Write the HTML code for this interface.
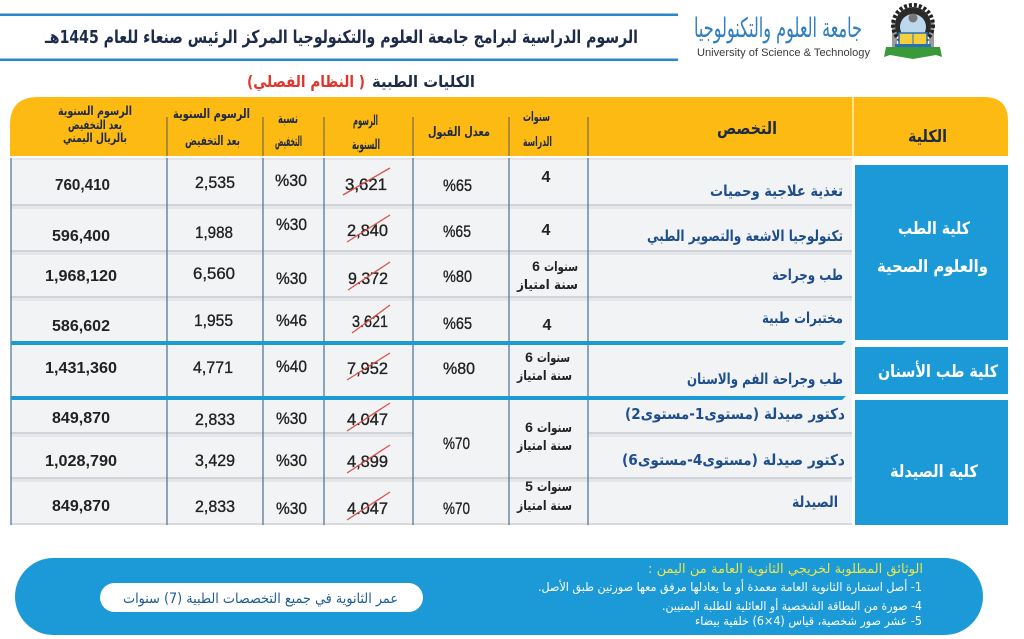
<!DOCTYPE html>
<html><head><meta charset="utf-8">
<style>
html,body{margin:0;padding:0;background:#fff;}
body{width:1024px;height:639px;overflow:hidden;}
svg{display:block;}
.ar{font-family:"DejaVu Sans","Liberation Sans",sans-serif;}
.nm{font-family:"Liberation Sans","DejaVu Sans",sans-serif;}
</style></head>
<body>
<svg width="1024" height="639" viewBox="0 0 1024 639" xmlns="http://www.w3.org/2000/svg">
<rect width="1024" height="639" fill="#fff"/>

<!-- top lines -->
<rect x="0" y="13.5" width="678" height="2.5" fill="#2b88c6"/>
<rect x="0" y="58.5" width="678" height="2.5" fill="#2b88c6"/>

<!-- title -->
<text class="ar" x="341.5" y="43" text-anchor="middle" direction="rtl" font-size="18" font-weight="bold" fill="#1c2b4a" textLength="593" lengthAdjust="spacingAndGlyphs">الرسوم الدراسية لبرامج جامعة العلوم والتكنولوجيا المركز الرئيس صنعاء للعام 1445هـ</text>

<!-- logo -->
<text class="ar" x="778" y="37" text-anchor="middle" direction="rtl" font-size="27" fill="#2f7fc1" textLength="168" lengthAdjust="spacingAndGlyphs">جامعة العلوم والتكنولوجيا</text>
<text class="nm" x="783.5" y="56" text-anchor="middle" font-size="11" fill="#3a3a3a" textLength="173" lengthAdjust="spacingAndGlyphs">University of Science &amp; Technology</text>
<!-- emblem -->
<g>
<rect x="892" y="22" width="5" height="28" fill="#9a9a9a"/>
<rect x="929" y="22" width="5" height="28" fill="#9a9a9a"/>
<circle cx="913" cy="25" r="20" fill="none" stroke="#222" stroke-width="4" stroke-dasharray="3 2"/>
<circle cx="913" cy="25" r="18" fill="#2a2a2a"/>
<circle cx="913" cy="27" r="13" fill="#bcd8ef"/>
<circle cx="913" cy="18" r="4.5" fill="#777"/>
<rect x="899" y="33" width="28" height="12" fill="#f4d03f" stroke="#2a6fb5" stroke-width="1.5"/>
<line x1="913" y1="33" x2="913" y2="45" stroke="#2a6fb5" stroke-width="1"/>
<rect x="895" y="44" width="36" height="4" fill="#2a6fb5"/>
<path d="M886 47 L940 47 L942 57 L936 55 L913 59 L890 55 L884 57 Z" fill="#3a9a3a"/>
</g>

<!-- subtitle -->
<text class="ar" x="423.5" y="87" text-anchor="middle" direction="rtl" font-size="16" font-weight="bold" fill="#1c2b4a" textLength="103" lengthAdjust="spacingAndGlyphs">الكليات الطبية</text>
<text class="ar" x="306" y="87" text-anchor="middle" direction="rtl" font-size="16" font-weight="bold" fill="#e2342b" textLength="118" lengthAdjust="spacingAndGlyphs">( النظام الفصلي)</text>

<!-- header yellow -->
<path d="M10 156 L10 125 Q10 97 38 97 L852 97 L852 156 Z" fill="#FDBA12"/>
<path d="M854 97 L984 97 Q1008 97 1008 121 L1008 156 L854 156 Z" fill="#FDBA12"/>
<rect x="852" y="97" width="2" height="59" fill="#fde08a"/>
<g stroke="#5a5a5a" stroke-width="1">
<line x1="167" y1="117" x2="167" y2="156"/>
<line x1="263" y1="117" x2="263" y2="156"/>
<line x1="324" y1="117" x2="324" y2="156"/>
<line x1="413" y1="117" x2="413" y2="156"/>
<line x1="509" y1="117" x2="509" y2="156"/>
<line x1="588" y1="117" x2="588" y2="156"/>
</g>

<!-- header texts -->
<g class="ar" text-anchor="middle" direction="rtl" font-weight="bold" fill="#1f2a44">
<text x="927.5" y="142" font-size="17" textLength="39" lengthAdjust="spacingAndGlyphs">الكلية</text>
<text x="747" y="134" font-size="17" textLength="60" lengthAdjust="spacingAndGlyphs">التخصص</text>
<text x="536.5" y="121" font-size="13" textLength="27" lengthAdjust="spacingAndGlyphs">سنوات</text>
<text x="537.5" y="146" font-size="13" textLength="29" lengthAdjust="spacingAndGlyphs">الدراسة</text>
<text x="459" y="136" font-size="13" textLength="62" lengthAdjust="spacingAndGlyphs">معدل القبول</text>
<text x="365.5" y="125" font-size="14" textLength="25" lengthAdjust="spacingAndGlyphs">الرسوم</text>
<text x="366" y="149" font-size="14" textLength="28" lengthAdjust="spacingAndGlyphs">السنوية</text>
<text x="288" y="123" font-size="14" textLength="20" lengthAdjust="spacingAndGlyphs">نسبة</text>
<text x="288.5" y="146" font-size="14" textLength="27" lengthAdjust="spacingAndGlyphs">التخفيض</text>
<text x="211.5" y="118" font-size="13" textLength="77" lengthAdjust="spacingAndGlyphs">الرسوم السنوية</text>
<text x="212.5" y="145" font-size="13" textLength="55" lengthAdjust="spacingAndGlyphs">بعد التخفيض</text>
<text x="95" y="115" font-size="12.5" textLength="74" lengthAdjust="spacingAndGlyphs">الرسوم السنوية</text>
<text x="95" y="129" font-size="12.5" textLength="54" lengthAdjust="spacingAndGlyphs">بعد التخفيض</text>
<text x="95" y="142" font-size="12.5" textLength="64" lengthAdjust="spacingAndGlyphs">بالريال اليمني</text>
</g>

<!-- table body background -->
<rect x="11" y="158" width="841" height="367" fill="#f2f3f5"/>
<rect x="11" y="158" width="841" height="2" fill="#e4e6e9"/>
<!-- row separators -->
<g>
<rect x="11" y="204" width="841" height="2" fill="#d0d3d7"/><rect x="11" y="206" width="841" height="3" fill="#e4e6e9"/>
<rect x="11" y="250" width="841" height="2" fill="#d0d3d7"/><rect x="11" y="252" width="841" height="3" fill="#e4e6e9"/>
<rect x="11" y="296" width="841" height="2" fill="#d0d3d7"/><rect x="11" y="298" width="841" height="3" fill="#e4e6e9"/>
<rect x="11" y="432" width="402" height="2" fill="#d0d3d7"/><rect x="11" y="434" width="402" height="3" fill="#e4e6e9"/>
<rect x="588" y="432" width="264" height="2" fill="#d0d3d7"/><rect x="588" y="434" width="264" height="3" fill="#e4e6e9"/>
<rect x="11" y="477" width="841" height="2" fill="#d0d3d7"/><rect x="11" y="479" width="841" height="3" fill="#e4e6e9"/>
<rect x="11" y="523" width="841" height="2" fill="#d8dadd"/>
</g>
<!-- vertical lines -->
<g stroke="#56799a" stroke-width="1.3">
<line x1="11" y1="158" x2="11" y2="525"/>
<line x1="167" y1="158" x2="167" y2="525"/>
<line x1="263" y1="158" x2="263" y2="525"/>
<line x1="324" y1="158" x2="324" y2="525"/>
<line x1="413" y1="158" x2="413" y2="525"/>
<line x1="509" y1="158" x2="509" y2="525"/>
<line x1="588" y1="158" x2="588" y2="525"/>
</g>
<!-- blue separators -->
<path d="M11 341 L846 341 L842 345 L11 345 Z" fill="#1b9ad7"/>
<path d="M11 396 L846 396 L842 400 L11 400 Z" fill="#1b9ad7"/>

<!-- college cells -->
<rect x="855" y="165" width="153" height="175" fill="#1b9ad7"/>
<rect x="855" y="347" width="153" height="47" fill="#1b9ad7"/>
<rect x="855" y="400" width="153" height="125" fill="#1b9ad7"/>
<g class="ar" text-anchor="middle" direction="rtl" font-weight="bold" fill="#fff" font-size="17">
<text x="934" y="234" textLength="72" lengthAdjust="spacingAndGlyphs">كلية الطب</text>
<text x="932.5" y="272" textLength="111" lengthAdjust="spacingAndGlyphs">والعلوم الصحية</text>
<text x="938" y="377" textLength="120" lengthAdjust="spacingAndGlyphs">كلية طب الأسنان</text>
<text x="934" y="477" textLength="88" lengthAdjust="spacingAndGlyphs">كلية الصيدلة</text>
</g>

<!-- specialties -->
<g class="ar" text-anchor="middle" direction="rtl" font-weight="bold" fill="#1e4e8c" font-size="15">
<text x="776.5" y="196" textLength="133" lengthAdjust="spacingAndGlyphs">تغذية علاجية وحميات</text>
<text x="745" y="241" textLength="196" lengthAdjust="spacingAndGlyphs">تكنولوجيا الاشعة والتصوير الطبي</text>
<text x="807.5" y="280" textLength="71" lengthAdjust="spacingAndGlyphs">طب وجراحة</text>
<text x="802.5" y="323" textLength="81" lengthAdjust="spacingAndGlyphs">مختبرات طبية</text>
<text x="765" y="384" textLength="156" lengthAdjust="spacingAndGlyphs">طب وجراحة الفم والاسنان</text>
<text x="735" y="419" textLength="220" lengthAdjust="spacingAndGlyphs">دكتور صيدلة (مستوى1-مستوى2)</text>
<text x="733.5" y="465" textLength="223" lengthAdjust="spacingAndGlyphs">دكتور صيدلة (مستوى4-مستوى6)</text>
<text x="815" y="507" textLength="46" lengthAdjust="spacingAndGlyphs">الصيدلة</text>
</g>

<!-- years -->
<g class="nm" text-anchor="middle" font-weight="bold" fill="#222" font-size="16">
<text x="546" y="182">4</text>
<text x="546" y="235">4</text>
<text x="547" y="330">4</text>
</g>
<g class="nm" text-anchor="middle" font-weight="bold" fill="#222" font-size="14">
<text x="536" y="271">6</text>
<text x="529" y="362">6</text>
<text x="529" y="432">6</text>
<text x="529" y="491">5</text>
</g>
<g class="ar" text-anchor="middle" direction="rtl" font-weight="bold" fill="#222" font-size="13">
<text x="561" y="271" textLength="34" lengthAdjust="spacingAndGlyphs">سنوات</text>
<text x="547.5" y="289" textLength="61" lengthAdjust="spacingAndGlyphs">سنة امتياز</text>
<text x="553.5" y="362" textLength="33" lengthAdjust="spacingAndGlyphs">سنوات</text>
<text x="544.5" y="380" textLength="55" lengthAdjust="spacingAndGlyphs">سنة امتياز</text>
<text x="554.5" y="432" textLength="35" lengthAdjust="spacingAndGlyphs">سنوات</text>
<text x="544.5" y="450" textLength="55" lengthAdjust="spacingAndGlyphs">سنة امتياز</text>
<text x="554.5" y="491" textLength="35" lengthAdjust="spacingAndGlyphs">سنوات</text>
<text x="544.5" y="510" textLength="55" lengthAdjust="spacingAndGlyphs">سنة امتياز</text>
</g>

<!-- col1 numbers (bold) -->
<g class="nm" text-anchor="middle" font-weight="bold" fill="#222" font-size="16">
<text x="82.5" y="190" textLength="55" lengthAdjust="spacingAndGlyphs">760,410</text>
<text x="81" y="241" textLength="58" lengthAdjust="spacingAndGlyphs">596,400</text>
<text x="81" y="281" textLength="72" lengthAdjust="spacingAndGlyphs">1,968,120</text>
<text x="81" y="331" textLength="58" lengthAdjust="spacingAndGlyphs">586,602</text>
<text x="81" y="373" textLength="72" lengthAdjust="spacingAndGlyphs">1,431,360</text>
<text x="81" y="423" textLength="58" lengthAdjust="spacingAndGlyphs">849,870</text>
<text x="81" y="466" textLength="72" lengthAdjust="spacingAndGlyphs">1,028,790</text>
<text x="81" y="511" textLength="58" lengthAdjust="spacingAndGlyphs">849,870</text>
</g>

<!-- other numbers -->
<g class="nm" text-anchor="middle" fill="#222" stroke="#222" stroke-width="0.35" font-size="17">
<text x="215" y="188" textLength="40" lengthAdjust="spacingAndGlyphs">2,535</text>
<text x="214" y="238" textLength="38" lengthAdjust="spacingAndGlyphs">1,988</text>
<text x="214" y="279" textLength="42" lengthAdjust="spacingAndGlyphs">6,560</text>
<text x="213.5" y="326" textLength="39" lengthAdjust="spacingAndGlyphs">1,955</text>
<text x="213" y="373" textLength="40" lengthAdjust="spacingAndGlyphs">4,771</text>
<text x="215" y="425" textLength="40" lengthAdjust="spacingAndGlyphs">2,833</text>
<text x="215" y="466" textLength="40" lengthAdjust="spacingAndGlyphs">3,429</text>
<text x="215" y="512" textLength="40" lengthAdjust="spacingAndGlyphs">2,833</text>

<text x="291" y="186" textLength="32" lengthAdjust="spacingAndGlyphs">%30</text>
<text x="291.5" y="230" textLength="31" lengthAdjust="spacingAndGlyphs">%30</text>
<text x="291.5" y="284" textLength="31" lengthAdjust="spacingAndGlyphs">%30</text>
<text x="291.5" y="326" textLength="31" lengthAdjust="spacingAndGlyphs">%46</text>
<text x="291.5" y="372" textLength="31" lengthAdjust="spacingAndGlyphs">%40</text>
<text x="291.5" y="424" textLength="31" lengthAdjust="spacingAndGlyphs">%30</text>
<text x="291.5" y="466" textLength="31" lengthAdjust="spacingAndGlyphs">%30</text>
<text x="291.5" y="514" textLength="31" lengthAdjust="spacingAndGlyphs">%30</text>

<text x="366" y="190" textLength="42" lengthAdjust="spacingAndGlyphs">3,621</text>
<text x="367.5" y="236" textLength="41" lengthAdjust="spacingAndGlyphs">2,840</text>
<text x="368" y="284" textLength="40" lengthAdjust="spacingAndGlyphs">9.372</text>
<text x="370" y="327" textLength="36" lengthAdjust="spacingAndGlyphs">3.621</text>
<text x="367.5" y="374" textLength="41" lengthAdjust="spacingAndGlyphs">7,952</text>
<text x="367.5" y="425" textLength="41" lengthAdjust="spacingAndGlyphs">4.047</text>
<text x="367.5" y="467" textLength="41" lengthAdjust="spacingAndGlyphs">4,899</text>
<text x="367.5" y="514" textLength="41" lengthAdjust="spacingAndGlyphs">4.047</text>

<text x="457.5" y="191" textLength="29" lengthAdjust="spacingAndGlyphs">%65</text>
<text x="457" y="237" textLength="28" lengthAdjust="spacingAndGlyphs">%65</text>
<text x="457.5" y="282" textLength="29" lengthAdjust="spacingAndGlyphs">%80</text>
<text x="457.5" y="329" textLength="29" lengthAdjust="spacingAndGlyphs">%65</text>
<text x="459" y="374" textLength="32" lengthAdjust="spacingAndGlyphs">%80</text>
<text x="456.5" y="449" textLength="27" lengthAdjust="spacingAndGlyphs">%70</text>
<text x="456.5" y="514" textLength="27" lengthAdjust="spacingAndGlyphs">%70</text>
</g>

<!-- red strikes -->
<g stroke="#d9534a" stroke-width="1.3">
<line x1="343" y1="195" x2="390" y2="168"/>
<line x1="347" y1="242" x2="390" y2="215"/>
<line x1="348" y1="290" x2="390" y2="262"/>
<line x1="352" y1="333" x2="390" y2="305"/>
<line x1="347" y1="380" x2="390" y2="353"/>
<line x1="347" y1="431" x2="390" y2="403"/>
<line x1="347" y1="473" x2="390" y2="445"/>
<line x1="347" y1="520" x2="390" y2="492"/>
</g>

<!-- bottom band -->
<rect x="15" y="558" width="968" height="77" rx="38.5" ry="38.5" fill="#1b9ad7"/>
<rect x="100" y="583" width="323" height="29" rx="14.5" ry="14.5" fill="#fff"/>
<text class="ar" x="260.5" y="603" text-anchor="middle" direction="rtl" font-size="14" fill="#1e5b94" textLength="275" lengthAdjust="spacingAndGlyphs">عمر الثانوية في جميع التخصصات الطبية (7) سنوات</text>

<g class="ar" text-anchor="middle" direction="rtl">
<text x="785.5" y="573" font-size="13" fill="#ece64a" textLength="275" lengthAdjust="spacingAndGlyphs">الوثائق المطلوبة لخريجي الثانوية العامة من اليمن :</text>
<text x="730" y="591" font-size="12" fill="#fff" textLength="384" lengthAdjust="spacingAndGlyphs">1-  أصل استمارة الثانوية العامة معمدة أو ما يعادلها مرفق معها صورتين طبق الأصل.</text>
<text x="792" y="610" font-size="12" fill="#fff" textLength="260" lengthAdjust="spacingAndGlyphs">4- صورة من البطاقة الشخصية أو العائلية للطلبة اليمنيين.</text>
<text x="808.5" y="625" font-size="12" fill="#fff" textLength="227" lengthAdjust="spacingAndGlyphs">5- عشر صور شخصية، قياس (4×6) خلفية بيضاء</text>
</g>
</svg>
</body></html>
